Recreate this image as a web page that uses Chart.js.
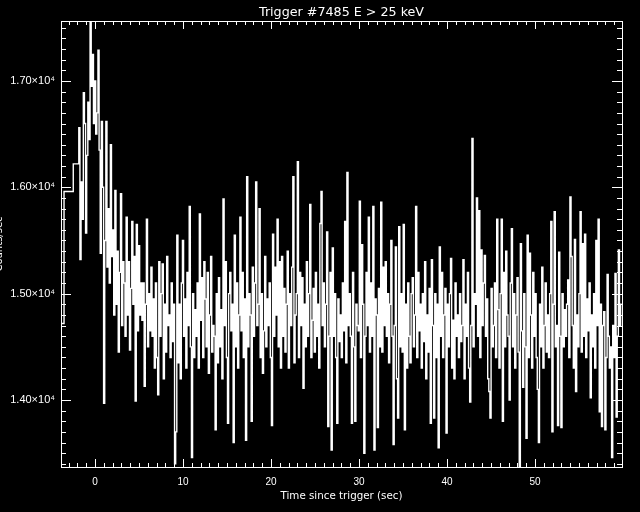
<!DOCTYPE html>
<html>
<head>
<meta charset="utf-8">
<script src="https://cdn.jsdelivr.net/npm/chart.js@4.4.1/dist/chart.umd.min.js"></script>
<style>
  html, body { margin: 0; padding: 0; background: #000; }
  #wrap { width: 640px; height: 512px; }
</style>
</head>
<body>
<div id="wrap"><canvas id="lc" width="640" height="512"></canvas></div>
<script>
var titleText = "Trigger #7485 E > 25 keV";
var xTitle = "Time since trigger (sec)";
var yTitle = "Counts/sec";

// pre-trigger coarse bins (left edges) and rates
var coarseEdges = [-3.9, -3.52, -2.47];
var coarseRates = [14720, 15960, 16220];

// fine bins, 0.128 s each, starting here
var fineStart = -1.84;
var fineWidth = 0.128;
var rates = [
  16560, 15320, 16050, 15700, 16890, 16600, 15570, 16300,
  16800, 16450, 17900, 16950, 17250, 16600, 17000, 16500,
  16700, 17290, 16350, 15380, 16620, 16000, 13970, 15500,
  16620, 15250, 15800, 15100, 16400, 15350, 15600, 14800,
  15970, 14900, 15400, 14450, 15200, 15940, 14700, 15300,
  15100, 14600, 15720, 14800, 15300, 14470, 15050, 15680,
  14900, 15350, 13990, 15650, 14650, 15450, 14800, 15100,
  14750, 15100, 14130, 14900, 15700, 14500, 15000, 14650,
  15250, 14600, 14950, 14300, 15100, 14400, 14050, 15300,
  14600, 15000, 15280, 14200, 14900, 14450, 15350, 14700,
  14800, 14400, 15100, 14550, 14900, 13400, 13700, 15550,
  14350, 14900, 14200, 15100, 15500, 14600, 14950, 14300,
  15200, 14700, 15820, 14500, 13460, 15000, 14400, 14850,
  14600, 15100, 14300, 15750, 14750, 15150, 14400, 15300,
  14950, 14500, 15200, 14250, 14800, 15350, 14450, 14700,
  14600, 13720, 15000, 14350, 15150, 14500, 14850, 14200,
  15890, 14700, 15300, 14400, 13780, 15000, 15200, 14650,
  14900, 13600, 15550, 14500, 15100, 14300, 14800, 15720,
  14650, 15200, 14400, 14950, 13620, 16100, 14500, 15000,
  14800, 13800, 15250, 14600, 15100, 16050, 14700, 14900,
  15800, 14400, 15000, 14250, 14650, 15350, 14500, 14950,
  14700, 15100, 14400, 13760, 15560, 14600, 15250, 14800,
  15700, 14500, 15300, 14300, 15350, 14600, 15050, 14450,
  14900, 15400, 14300, 15000, 14700, 15250, 16100, 14350,
  14800, 15000, 16240, 14400, 15200, 14700, 15150, 14110,
  14900, 14500, 15300, 14600, 15000, 15840, 14400, 14750,
  15050, 14450, 15200, 14600, 14900, 14300, 15660, 15960,
  14700, 15100, 14500, 14900, 15580, 13750, 14600, 15200,
  13530, 15430, 14600, 15000, 14400, 13780, 14950, 14550,
  14800, 14400, 15100, 14650, 15680, 14350, 16140, 14700,
  15000, 14600, 13780, 15200, 14500, 13800, 14900, 14700,
  14650, 15870, 14400, 15460, 14900, 13500, 14600, 15200,
  14700, 15720, 14450, 15100, 14600, 15820, 13530, 14950,
  14800, 13740, 15050, 14500, 15860, 14450, 15250, 14700,
  15300, 14600, 15000, 14350, 14900, 15500, 14600, 13580,
  14700, 15440, 14200, 13830, 15630, 14500, 15000, 14450,
  15650, 13720, 14900, 14300, 15100, 14600, 14350, 15000,
  15150, 14500, 14800, 15820, 14400, 15200, 14650, 14900,
  14300, 15000, 14550, 15300, 14200, 14800, 14450, 15050,
  13780, 15320, 14700, 13830, 15000, 14400, 14900, 13550,
  15440, 14600, 15200, 14400, 14800, 15050, 13690, 14900,
  14500, 15000, 15330, 14300, 14750, 14200, 15100, 14600,
  14800, 14400, 15000, 14550, 14700, 15320, 14200, 14900,
  14600, 15200, 14300, 13980, 14700, 16460, 14500, 15000,
  14900, 15900, 14600, 15780, 14400, 15410, 14700, 15100,
  15360, 14600, 14950, 14200, 14080, 13830, 15050, 14500,
  14700, 15100, 14400, 15700, 14850, 14300, 15000, 15700,
  13800, 15200, 14500, 15400, 14800, 14600, 14000, 15100,
  15610, 14500, 15000, 14300, 14800, 15150, 14450, 13340,
  15470, 14650, 14120, 15000, 14500, 13640, 15550, 14400,
  15380, 14800, 14300, 15200, 14600, 15000, 14400, 14100,
  13600, 14900, 14500, 15250, 14300, 14700, 15100, 14450,
  14800, 14400, 15000, 15680, 13700, 14900, 15770, 14500,
  14700, 13760, 15390, 14600, 13740, 15000, 14500, 14850,
  14600, 14900, 15130, 14400, 15910, 15350, 14700, 14300,
  15510, 14080, 14800, 14500, 15000, 15770, 14450, 15470,
  14600, 15560, 14400, 14950, 14650, 15100, 14020, 14800,
  14500, 15000, 14300, 15500, 14700, 15700, 13890, 14900,
  13750, 14700, 14830, 13720, 14400, 15180, 14600, 14300,
  14500, 13460, 14700, 14400, 15190, 13840, 14600, 15410,
  14700, 14900
];

var xTicks = [0, 10, 20, 30, 40, 50];
var yTicks = [14000, 15000, 16000, 17000];
var xMin = -3.864, xMax = 59.886;
var yMin = 13370, yMax = 17564;
var xMinor = 1, yMinor = 100;

// build step points (left edges), plus the closing right edge
var pts = [];
for (var i = 0; i < coarseEdges.length; i++) {
  pts.push({x: coarseEdges[i], y: coarseRates[i]});
}
for (var j = 0; j < rates.length; j++) {
  pts.push({x: fineStart + j * fineWidth, y: rates[j]});
}
pts.push({x: fineStart + rates.length * fineWidth, y: rates[rates.length - 1]});

var idlFrame = {
  id: 'idlFrame',
  beforeDraw: function(chart) {
    var ctx = chart.ctx;
    ctx.save();
    ctx.fillStyle = '#000';
    ctx.fillRect(0, 0, chart.width, chart.height);
    ctx.restore();
  },
  afterDraw: function(chart) {
    var ctx = chart.ctx;
    var a = chart.chartArea;
    var xs = chart.scales.x, ys = chart.scales.y;
    ctx.save();
    ctx.strokeStyle = '#fff';
    ctx.lineWidth = 1;
    ctx.strokeRect(Math.round(a.left) + 0.5, Math.round(a.top) + 0.5,
      Math.round(a.right - a.left), Math.round(a.bottom - a.top));

    ctx.beginPath();
    // x ticks, inward, top and bottom
    for (var t = Math.ceil(xMin / xMinor) * xMinor; t <= xMax; t += xMinor) {
      var px = Math.round(xs.getPixelForValue(t)) + 0.5;
      var len = (Math.round(t) % 10 === 0) ? 8 : 4;
      ctx.moveTo(px, a.bottom); ctx.lineTo(px, a.bottom - len);
      ctx.moveTo(px, a.top); ctx.lineTo(px, a.top + len);
    }
    // y ticks, inward, left and right
    for (var v = Math.ceil(yMin / yMinor) * yMinor; v <= yMax; v += yMinor) {
      var py = Math.round(ys.getPixelForValue(v)) + 0.5;
      var ylen = (Math.round(v) % 1000 === 0) ? 10 : 5;
      ctx.moveTo(a.left, py); ctx.lineTo(a.left + ylen, py);
      ctx.moveTo(a.right, py); ctx.lineTo(a.right - ylen, py);
    }
    ctx.stroke();

    ctx.fillStyle = '#fff';
    var cx = (a.left + a.right) / 2;
    ctx.textAlign = 'center';
    ctx.textBaseline = 'alphabetic';
    ctx.font = '12.7px "DejaVu Sans"';
    ctx.fillText(titleText, cx, 16);
    ctx.font = '10.3px "DejaVu Sans"';
    ctx.fillText(xTitle, cx, 499);

    // y title, mostly cut off at the left edge like the original
    ctx.translate(2, (a.top + a.bottom) / 2);
    ctx.rotate(-Math.PI / 2);
    ctx.font = '10px "DejaVu Sans"';
    ctx.fillText(yTitle, 0, 0);
    ctx.restore();
  }
};

var lc = new Chart(document.getElementById('lc').getContext('2d'), {
  type: 'line',
  data: {
    datasets: [{
      data: pts,
      stepped: true,
      borderColor: '#fff',
      borderWidth: 1.4,
      pointRadius: 0,
      fill: false
    }]
  },
  options: {
    responsive: false,
    animation: false,
    events: [],
    layout: { padding: { left: 0, right: 18, top: 21, bottom: 0 } },
    plugins: {
      legend: { display: false },
      tooltip: { enabled: false },
      title: { display: false }
    },
    scales: {
      x: {
        type: 'linear',
        min: xMin,
        max: xMax,
        grid: { display: false, drawTicks: false },
        border: { display: false },
        afterBuildTicks: function(axis) {
          axis.ticks = xTicks.map(function(v) { return {value: v}; });
        },
        afterFit: function(axis) { axis.height = 45; },
        ticks: {
          color: '#fff',
          padding: 9,
          maxRotation: 0,
          font: { family: 'Liberation Sans', size: 10 },
          callback: function(v) { return String(v); }
        }
      },
      y: {
        type: 'linear',
        min: yMin,
        max: yMax,
        grid: { display: false, drawTicks: false },
        border: { display: false },
        afterBuildTicks: function(axis) {
          axis.ticks = yTicks.map(function(v) { return {value: v}; });
        },
        afterFit: function(axis) { axis.width = 61; },
        ticks: {
          color: '#fff',
          padding: 6,
          font: { family: 'Liberation Sans', size: 11 },
          callback: function(v) { return (v / 10000).toFixed(2) + '\u00d710\u2074'; }
        }
      }
    }
  },
  plugins: [idlFrame]
});
</script>
</body>
</html>
